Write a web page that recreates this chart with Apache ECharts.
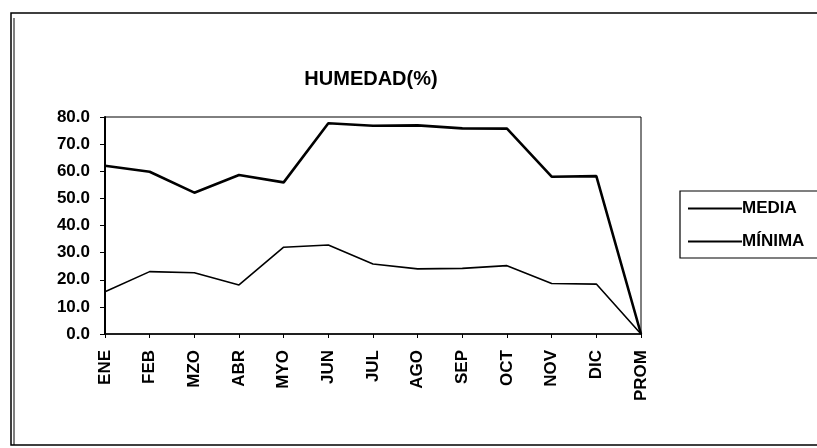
<!DOCTYPE html>
<html>
<head>
<meta charset="utf-8">
<script src="https://cdn.jsdelivr.net/npm/echarts@6/dist/echarts.min.js"></script>
<style>html,body{margin:0;padding:0;background:#fff}#c{width:817px;height:448px}</style>
</head>
<body>
<div id="c"></div>
<script>
var categories = ['ENE','FEB','MZO','ABR','MYO','JUN','JUL','AGO','SEP','OCT','NOV','DIC','PROM'];
var media = [62.0, 59.8, 52.1, 58.6, 55.9, 77.7, 76.8, 76.9, 75.8, 75.7, 58.0, 58.2, 0];
var minima = [15.6, 23.0, 22.6, 18.1, 32.0, 32.8, 25.8, 24.0, 24.2, 25.2, 18.6, 18.4, 0];
var seriesNames = ['MEDIA', 'MÍNIMA'];
var titleText = 'HUMEDAD(%)';

var FONT = '"Liberation Sans", Arial, sans-serif';
var chart = echarts.init(document.getElementById('c'), null, {renderer: 'canvas'});
chart.setOption({
  backgroundColor: '#fff',
  animation: false,
  title: {
    text: titleText, left: 366, top: 64, textAlign: 'center',
    textStyle: {fontFamily: FONT, fontWeight: 'bold', fontSize: 20, color: '#000'}
  },
  grid: {left: 105, right: 176, top: 117, bottom: 114, show: true, borderColor: '#000', borderWidth: 1, backgroundColor: 'transparent'},
  legend: {
    orient: 'vertical', left: 680, top: 191,
    padding: [9, 80, 8, 8], itemGap: 16, itemWidth: 54, itemHeight: 2,
    icon: 'rect',
    borderColor: '#000', borderWidth: 1.2,
    data: seriesNames,
    textStyle: {fontFamily: FONT, fontSize: 17, fontWeight: 'bold', color: '#000', padding: [0,0,0,-5]}
  },
  xAxis: {
    type: 'category', data: categories, boundaryGap: false,
    axisLine: {lineStyle: {color: '#000', width: 1.5}},
    axisTick: {show: true, length: 4, alignWithLabel: true, lineStyle: {color: '#000'}},
    axisLabel: {rotate: 90, margin: 16, interval: 0, fontFamily: FONT, fontSize: 17, fontWeight: 'bold', color: '#000'},
    splitLine: {show: false}
  },
  yAxis: {
    type: 'value', min: 0, max: 80, interval: 10,
    axisLine: {show: true, lineStyle: {color: '#000', width: 2}},
    axisTick: {show: true, length: 5, lineStyle: {color: '#000'}},
    axisLabel: {margin: 15, fontFamily: FONT, fontSize: 17, fontWeight: 'bold', color: '#000', formatter: function(v){return v.toFixed(1);}},
    splitLine: {show: false}
  },
  series: [
    {name: seriesNames[0], type: 'line', data: media, symbol: 'none', lineStyle: {color: '#000', width: 2.6}, itemStyle: {color: '#000'}},
    {name: seriesNames[1], type: 'line', data: minima, symbol: 'none', lineStyle: {color: '#000', width: 1.6}, itemStyle: {color: '#000'}}
  ],
  graphic: [
    {type: 'rect', shape: {x: 11, y: 13, width: 840, height: 432}, style: {fill: 'none', stroke: '#000', lineWidth: 1.5}, silent: true},
    {type: 'line', shape: {x1: 14, y1: 18, x2: 14, y2: 445}, style: {stroke: '#000', lineWidth: 1}, silent: true}
  ]
});
</script>
</body>
</html>
